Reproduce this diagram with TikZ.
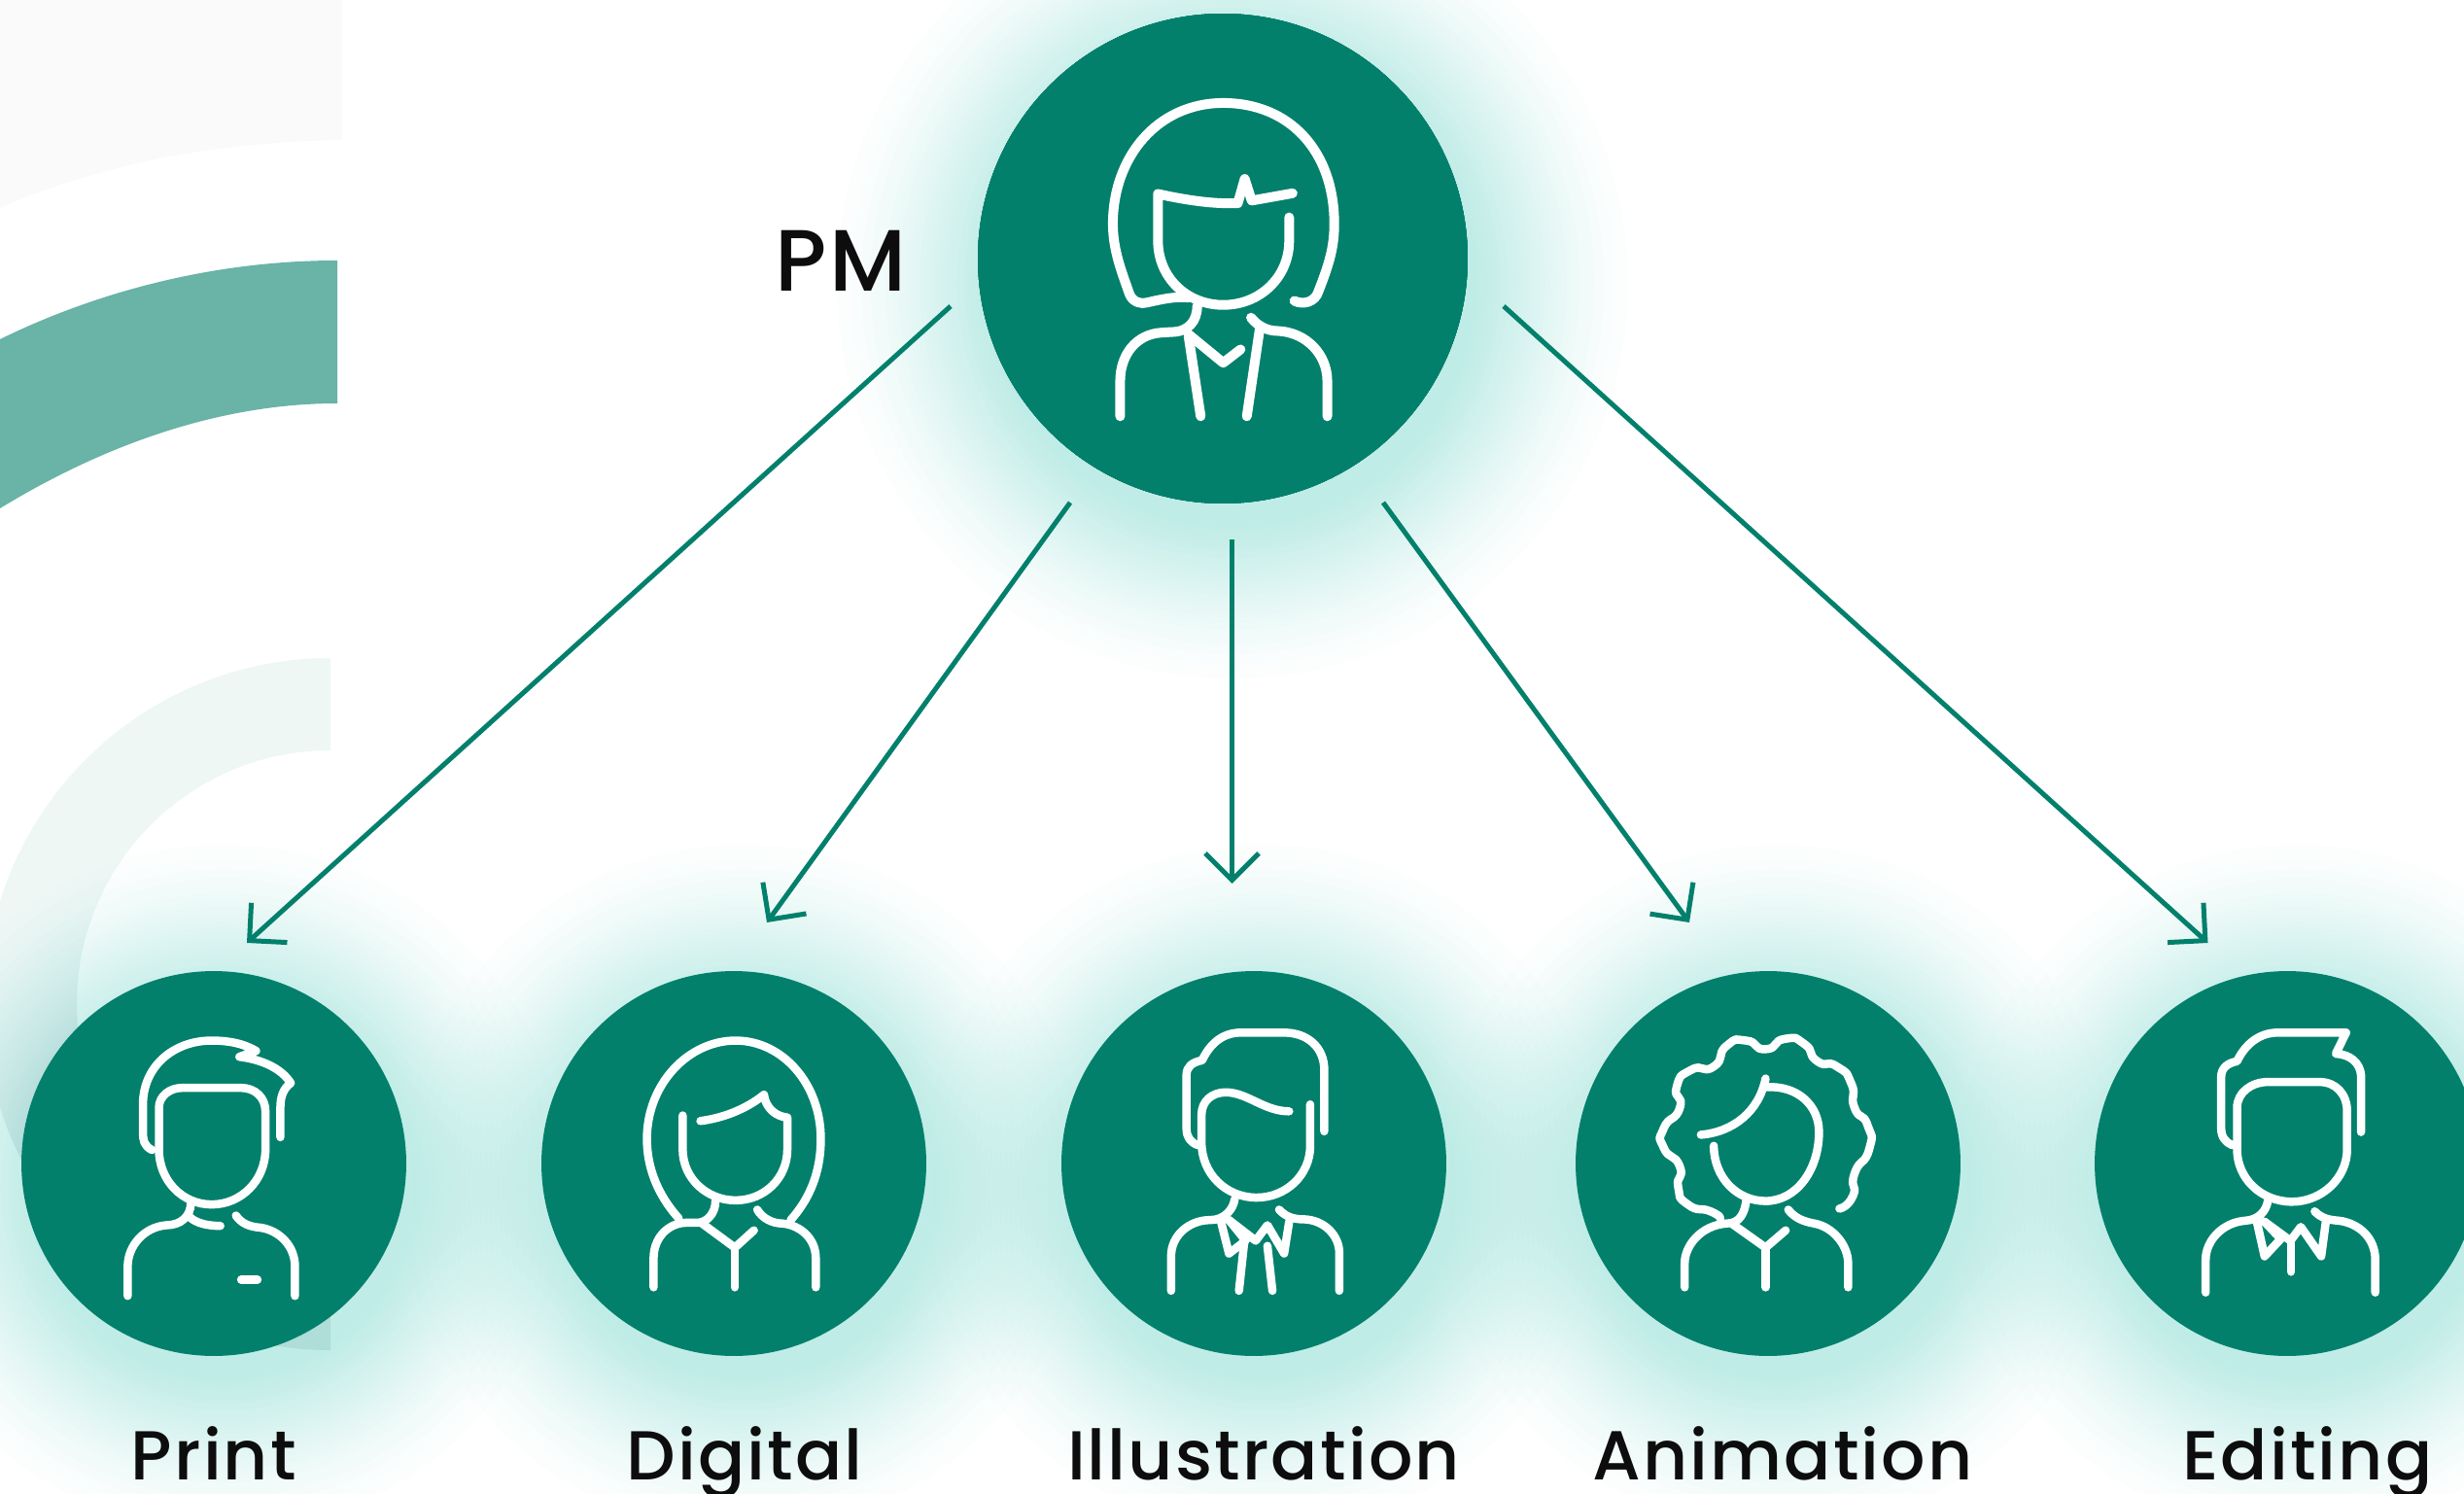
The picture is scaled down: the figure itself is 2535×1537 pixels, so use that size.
\documentclass[tikz,border=0pt]{standalone}
\usepackage{fontspec}
\setmainfont{Poppins}[UprightFont=* Medium,LetterSpace=3]
\usetikzlibrary{arrows.meta}
\definecolor{pmteal}{HTML}{02806C}
\definecolor{pmband}{HTML}{69B3A7}
\definecolor{pmpale}{HTML}{EFF7F5}
\definecolor{pmgrey}{HTML}{FAFAFA}
\definecolor{pmglow}{HTML}{8FDDD4}
\tikzset{
  person/.style={circle, fill=pmteal, minimum size=7.92cm, inner sep=0pt},
  boss/.style={person, minimum size=10.08cm},
  link/.style={draw=pmteal, line width=0.1cm, -{Straight Barb[length=0.55cm,width=1.1cm,line width=0.1cm]}},
  outline/.style={draw=white, line width=0.17cm, line cap=round, line join=round},
  team/.style={anchor=base, inner sep=0pt, font=\fontsize{40.6}{48}\selectfont, text=black!95},
  glowdisc/.style={pmglow, opacity=0.028}
}
\newcommand{\glowat}[3]{\foreach \k in {0,...,29} \fill[glowdisc] (#1+10,#2+25) circle ({#3+190*(1-sqrt(1-\k/30))});}
\begin{document}
\begin{tikzpicture}[x=0.02cm,y=-0.02cm]
  \clip (0,0) rectangle (2535,1537);
  % background bands
  \fill[pmgrey] (0,0) -- (352,0) -- (352,144) .. controls (220,146) and (100,170) .. (0,214) -- cycle;
  \fill[pmband] (347,268) .. controls (220,268) and (100,300) .. (0,349) -- (0,523) .. controls (100,462) and (220,415) .. (347,415) -- cycle;
  \fill[pmpale] (340,677) arc[start angle=270,end angle=90,radius=356] -- (340,1294) arc[start angle=90,end angle=270,radius=261] -- cycle;
  % glow
  \glowat{1258}{266}{252}
  \foreach \x in {220,755,1290,1819,2353}
    \glowat{\x}{1197}{198}
  % people
  \node[boss] (PM) at (1258,266) {};
  \node[person] (print) at (220,1197) {};
  \node[person] (digital) at (755,1197) {};
  \node[person] (illustration) at (1290,1197) {};
  \node[person] (animation) at (1819,1197) {};
  \node[person] (editing) at (2353,1197) {};
  % arrows
  \coordinate (PMa) at (978,315);
  \coordinate (PMb) at (1101,517);
  \coordinate (PMc) at (1267.5,555);
  \coordinate (PMd) at (1423,517);
  \coordinate (PMe) at (1547,315);
  \coordinate (printin) at (254,970);
  \coordinate (digitalin) at (789,949);
  \coordinate (illustrationin) at (1267.5,909);
  \coordinate (animationin) at (1738,949);
  \coordinate (editingin) at (2271.5,970);
  \draw[link] (PMa) -- (printin);
  \draw[link] (PMb) -- (digitalin);
  \draw[link] (PMc) -- (illustrationin);
  \draw[link] (PMd) -- (animationin);
  \draw[link] (PMe) -- (editingin);
  % PM icon
  \begin{scope}[shift={(980,0)},xscale=0.357,yscale=0.344,outline/.append style={line width=0.2cm}]
    \draw[outline] (985,900) .. controls (1010,912) and (1045,905) .. (1055,870) .. controls (1085,790) and (1100,740) .. (1100,670) .. controls (1100,450) and (970,308) .. (780,308) .. controls (590,308) and (462,470) .. (462,670) .. controls (462,750) and (490,820) .. (510,880) .. controls (520,905) and (545,910) .. (560,905) .. controls (590,898) and (640,885) .. (680,890);
    \draw[outline] (970,650) -- (970,720) .. controls (970,830) and (885,912) .. (780,912) .. controls (675,912) and (592,830) .. (592,720) -- (592,580) .. controls (680,600) and (750,610) .. (822,608) -- (842,535) -- (862,600) -- (980,578);
    \draw[outline] (705,915) .. controls (705,960) and (680,993) .. (630,993) -- (600,995) .. controls (530,1000) and (483,1060) .. (483,1140) -- (483,1245);
    \draw[outline] (860,950) .. controls (880,975) and (905,990) .. (940,990) .. controls (1020,995) and (1080,1060) .. (1080,1140) -- (1080,1245);
    \draw[outline] (680,1000) -- (780,1085) -- (830,1045);
    \draw[outline] (680,1005) -- (715,1245);
    \draw[outline] (885,985) -- (848,1245);
  \end{scope}
  % print icon
  \begin{scope}[shift={(0,980)},xscale=0.357,yscale=0.355]
    \draw[outline] (438,572) .. controls (415,560) and (412,545) .. (412,520) -- (412,440) .. controls (412,330) and (500,255) .. (610,255) .. controls (670,255) and (710,268) .. (738,285) -- (690,302) .. controls (755,310) and (810,335) .. (838,378) .. controls (815,395) and (808,420) .. (808,450) -- (808,535);
    \draw[outline] (458,450) .. controls (458,415) and (490,392) .. (525,392) -- (695,392) .. controls (735,392) and (765,420) .. (765,460) -- (765,570) .. controls (765,660) and (695,730) .. (610,730) .. controls (525,730) and (458,660) .. (458,570) -- cycle;
    \draw[outline] (550,725) .. controls (550,765) and (520,790) .. (480,790) .. controls (415,795) and (368,850) .. (368,910) -- (368,995);
    \draw[outline] (545,765) .. controls (565,785) and (600,792) .. (635,792);
    \draw[outline] (680,762) .. controls (695,785) and (720,795) .. (750,797) .. controls (805,805) and (850,850) .. (850,910) -- (850,995);
    \draw[outline] (695,948) -- (742,948);
  \end{scope}
  % digital icon
  \begin{scope}[shift={(540,980)},xscale=0.344,yscale=0.355]
    \draw[outline] (460,770) .. controls (395,700) and (365,620) .. (365,540) .. controls (365,380) and (490,255) .. (630,255) .. controls (770,255) and (885,380) .. (885,540) .. controls (885,640) and (850,715) .. (795,775);
    \draw[outline] (472,472) -- (472,570) .. controls (472,655) and (545,718) .. (630,718) .. controls (715,718) and (785,655) .. (785,570) -- (785,478) .. controls (750,475) and (720,450) .. (715,412) .. controls (660,455) and (590,480) .. (525,488);
    \draw[outline] (570,720) .. controls (570,755) and (545,785) .. (510,783) -- (480,783) .. controls (425,785) and (385,830) .. (385,885) -- (385,970);
    \draw[outline] (530,785) -- (628,855) -- (685,805);
    \draw[outline] (628,855) -- (628,970);
    \draw[outline] (695,745) .. controls (710,770) and (740,785) .. (770,785) .. controls (825,790) and (870,830) .. (870,885) -- (870,970);
  \end{scope}
  % illustration icon
  \begin{scope}[shift={(1070,980)},xscale=0.344,yscale=0.355]
    \draw[outline] (850,518) -- (850,340) .. controls (850,275) and (800,232) .. (730,232) -- (600,232) .. controls (550,232) and (510,260) .. (485,312) .. controls (455,318) and (438,330) .. (438,355) -- (438,510) .. controls (438,535) and (450,550) .. (472,558);
    \draw[outline] (808,440) -- (808,560) .. controls (808,645) and (735,710) .. (648,710) .. controls (555,710) and (483,640) .. (483,550) -- (483,470) .. controls (483,430) and (515,405) .. (555,405) .. controls (620,405) and (670,460) .. (745,460);
    \draw[outline] (582,715) .. controls (578,745) and (550,775) .. (510,775) .. controls (445,775) and (392,820) .. (392,880) -- (392,980);
    \draw[outline] (540,775) -- (565,872) -- (615,835) -- (565,775);
    \draw[outline] (565,775) -- (645,835) -- (680,790) -- (730,872) -- (745,780);
    \draw[outline] (610,845) -- (595,980);
    \draw[outline] (680,850) -- (695,980);
    \draw[outline] (715,745) .. controls (735,765) and (755,773) .. (790,773) .. controls (850,775) and (895,820) .. (895,870) -- (895,980);
  \end{scope}
  % animation icon
  \begin{scope}[shift={(1600,980)},xscale=0.333,yscale=0.355]
    \draw[outline] plot[smooth,tension=1.2] coordinates {(878,742) (920,705) (925,640) (970,570) (965,500) (925,450) (915,380) (870,330) (810,315) (770,265) (710,250) (650,280) (590,255) (530,270) (490,330) (420,340) (375,390) (385,450) (335,510) (335,565) (385,620) (380,680) (410,730) (480,750) (510,770)};
    \draw[outline] (450,528) .. controls (550,520) and (630,460) .. (650,365);
    \draw[outline] (655,390) .. controls (745,385) and (815,440) .. (815,520) .. controls (815,630) and (745,720) .. (650,720) .. controls (560,720) and (490,650) .. (490,560);
    \draw[outline] (590,720) .. controls (585,755) and (570,785) .. (530,785) .. controls (450,790) and (400,850) .. (400,900) -- (400,970);
    \draw[outline] (545,785) -- (650,855) -- (712,805);
    \draw[outline] (650,855) -- (650,970);
    \draw[outline] (720,745) .. controls (740,770) and (770,780) .. (800,785) .. controls (860,795) and (905,850) .. (905,900) -- (905,970);
  \end{scope}
  % editing icon
  \begin{scope}[shift={(2130,980)},xscale=0.333,yscale=0.355]
    \draw[outline] (898,520) -- (898,355) .. controls (895,320) and (865,295) .. (820,293) -- (852,232) -- (640,232) .. controls (585,232) and (540,265) .. (515,315) .. controls (485,320) and (466,335) .. (466,360) -- (466,510) .. controls (466,535) and (480,550) .. (500,558);
    \draw[outline] (515,450) .. controls (515,405) and (560,375) .. (610,375) -- (770,375) .. controls (820,375) and (855,410) .. (855,460) -- (855,570) .. controls (855,655) and (775,722) .. (685,722) .. controls (590,722) and (515,655) .. (515,570) -- cycle;
    \draw[outline] (610,720) .. controls (605,750) and (580,775) .. (540,777) .. controls (470,782) and (418,835) .. (418,890) -- (418,985);
    \draw[outline] (575,775) -- (600,880) -- (650,830) -- (600,780);
    \draw[outline] (600,780) -- (680,835) -- (712,795) -- (775,880) -- (790,775);
    \draw[outline] (682,835) -- (682,925);
    \draw[outline] (755,750) .. controls (775,770) and (800,775) .. (830,777) .. controls (895,785) and (942,830) .. (942,890) -- (942,985);
  \end{scope}
  % labels
  \node[anchor=base, inner sep=0pt, font=\fontsize{51}{60}\selectfont, text=black!95] (PMname) at (865,300) {PM};
  \node[team] (printname) at (220,1522) {Print};
  \node[team] (digitalname) at (766,1522) {Digital};
  \node[team] (illustrationname) at (1300,1522) {Illustration};
  \node[team] (animationname) at (1834,1522) {Animation};
  \node[team] (editingname) at (2374,1522) {Editing};
\end{tikzpicture}
\end{document}
